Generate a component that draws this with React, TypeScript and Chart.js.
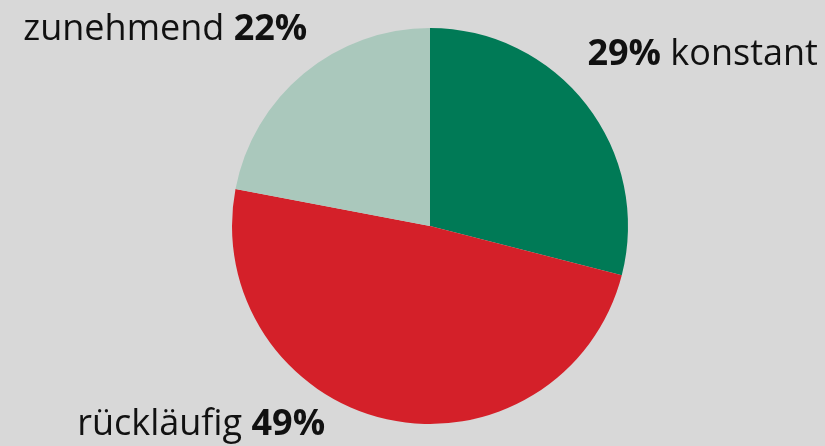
import React, { useEffect, useRef } from "react";
import { Chart, registerables } from "chart.js";

Chart.register(...registerables);

const categories = ["konstant", "rückläufig", "zunehmend"];
const values = [29, 49, 22];
const colors = ["#007a56", "#d42029", "#aac8bc"];

const labelPlugin = {
  id: "pieLabels",
  afterDraw(chart: any) {
    const meta = chart.getDatasetMeta(0);
    const arc = meta.data[0];
    if (!arc) return;
    const cx = arc.x;
    const cy = arc.y;
    const r = arc.outerRadius;
    const ctx = chart.ctx;
    const fam = "'Open Sans', sans-serif";
    const size = 36;
    const pct = (i: number) => `${values[i]}%`;
    ctx.save();
    ctx.fillStyle = "#111111";
    ctx.textBaseline = "alphabetic";

    const drawPair = (
      parts: { t: string; bold: boolean }[],
      x: number,
      y: number,
      align: "left" | "right"
    ) => {
      const widths = parts.map((p) => {
        ctx.font = `${p.bold ? "bold " : ""}${size}px ${fam}`;
        return ctx.measureText(p.t).width;
      });
      const total = widths.reduce((a, b) => a + b, 0);
      let px = align === "left" ? x : x - total;
      parts.forEach((p, i) => {
        ctx.font = `${p.bold ? "bold " : ""}${size}px ${fam}`;
        ctx.textAlign = "left";
        ctx.fillText(p.t, px, y);
        px += widths[i];
      });
    };

    // konstant (top right)
    drawPair(
      [
        { t: pct(0), bold: true },
        { t: " " + categories[0], bold: false },
      ],
      cx + r * 0.795,
      cy - r * 0.815,
      "left"
    );
    // zunehmend (top left)
    drawPair(
      [
        { t: categories[2] + " ", bold: false },
        { t: pct(2), bold: true },
      ],
      cx - r * 0.62,
      cy - r * 0.94,
      "right"
    );
    // rückläufig (bottom left)
    drawPair(
      [
        { t: categories[1] + " ", bold: false },
        { t: pct(1), bold: true },
      ],
      cx - r * 0.53,
      cy + r * 1.055,
      "right"
    );
    ctx.restore();
  },
};

export default function App() {
  const ref = useRef<HTMLCanvasElement>(null);
  useEffect(() => {
    if (!ref.current) return;
    const chart = new Chart(ref.current, {
      type: "pie",
      data: {
        labels: categories,
        datasets: [
          {
            data: values,
            backgroundColor: colors,
            borderWidth: 0,
          },
        ],
      },
      options: {
        responsive: false,
        animation: false,
        layout: { padding: { top: 28, bottom: 22, left: 35, right: 0 } },
        plugins: {
          legend: { display: false },
          tooltip: { enabled: false },
        },
      },
      plugins: [labelPlugin],
    });
    return () => chart.destroy();
  }, []);
  return (
    <div
      style={{
        position: "absolute",
        left: 0,
        top: 0,
        width: 825,
        height: 446,
        background: "#d8d8d8",
      }}
    >
      <canvas ref={ref} width={825} height={446} style={{ display: "block" }} />
    </div>
  );
}
